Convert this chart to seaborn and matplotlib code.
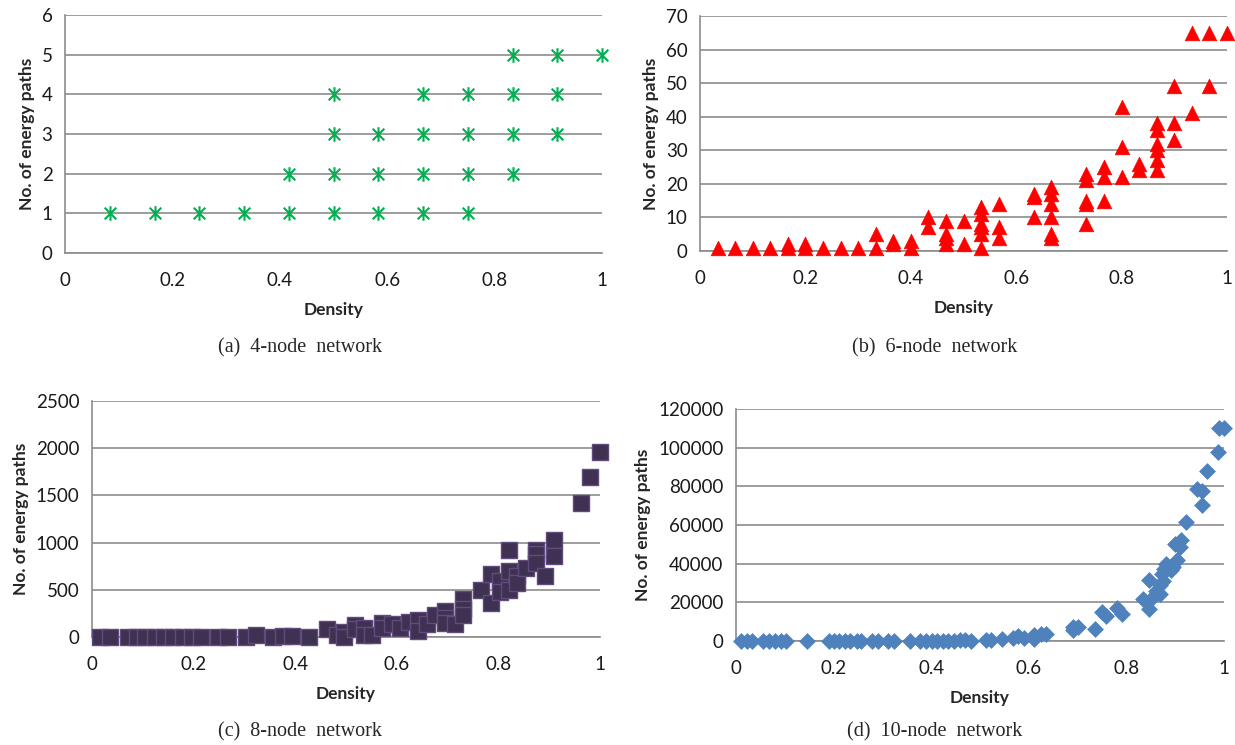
import numpy as np
import pandas as pd
import matplotlib
matplotlib.use("Agg")
import matplotlib.pyplot as plt
from matplotlib.path import Path
import seaborn as sns

# ---------------- data ----------------
# (a) 4-node network
a_density = [1/12, 2/12, 3/12, 4/12, 5/12, 6/12, 7/12, 8/12, 9/12,
             5/12, 6/12, 7/12, 8/12, 9/12, 10/12,
             6/12, 7/12, 8/12, 9/12, 10/12, 11/12,
             6/12, 8/12, 9/12, 10/12, 11/12,
             10/12, 11/12, 12/12]
a_paths = [1, 1, 1, 1, 1, 1, 1, 1, 1,
           2, 2, 2, 2, 2, 2,
           3, 3, 3, 3, 3, 3,
           4, 4, 4, 4, 4,
           5, 5, 5]

# (b) 6-node network
b_density = [1/30, 2/30, 3/30, 4/30, 5/30, 5/30, 6/30, 6/30, 7/30, 8/30, 9/30,
             10/30, 10/30, 11/30, 11/30, 12/30, 12/30, 13/30, 13/30,
             14/30, 14/30, 14/30, 14/30, 15/30, 15/30,
             16/30, 16/30, 16/30, 16/30, 16/30, 16/30, 17/30, 17/30, 17/30,
             19/30, 19/30, 19/30, 20/30, 20/30, 20/30, 20/30, 20/30, 20/30,
             22/30, 22/30, 22/30, 22/30, 22/30, 23/30, 23/30, 23/30,
             24/30, 24/30, 24/30, 25/30, 25/30,
             26/30, 26/30, 26/30, 26/30, 26/30, 26/30,
             27/30, 27/30, 27/30, 28/30, 28/30, 29/30, 29/30, 30/30]
b_paths = [1, 1, 1, 1, 1, 2, 1, 2, 1, 1, 1,
           1, 5, 2, 3, 1, 3, 7, 10,
           2, 4, 5, 9, 2, 9,
           1, 5, 7, 8, 11, 13, 4, 7, 14,
           10, 16, 17, 4, 5, 10, 14, 17, 19,
           8, 14, 15, 21, 23, 15, 22, 25,
           22, 31, 43, 24, 26,
           24, 27, 30, 32, 36, 38,
           33, 38, 49, 41, 65, 49, 65, 65]

# (c) 8-node network
c_density = [0.016, 0.035, 0.070, 0.089, 0.105, 0.124, 0.141, 0.159, 0.179, 0.196, 0.215,
             0.249, 0.268, 0.303, 0.322, 0.357, 0.375, 0.394, 0.427,
             0.462, 0.482, 0.497, 0.497, 0.517, 0.517, 0.536, 0.536, 0.552,
             0.571, 0.571, 0.591, 0.606, 0.624, 0.641, 0.641, 0.660, 0.676,
             0.695, 0.695, 0.695, 0.715, 0.730, 0.730, 0.730,
             0.766, 0.785, 0.785, 0.803, 0.803, 0.820, 0.820, 0.820,
             0.837, 0.837, 0.855, 0.874, 0.874, 0.874, 0.892, 0.909, 0.909,
             0.962, 0.981, 1.000]
c_paths = [0, 0, 0, 0, 0, 0, 0, 0, 0, 0, 0,
           0, 0, 0, 20, 0, 10, 10, 0,
           90, 20, 50, 0, 130, 80, 100, 20, 20,
           150, 100, 140, 100, 160, 180, 60, 140, 230,
           280, 200, 150, 140, 400, 300, 230,
           500, 665, 360, 590, 480, 920, 700, 500,
           650, 570, 730, 920, 880, 780, 650, 1025, 855,
           1415, 1695, 1960]

# (d) 10-node network
d_density = [0.010, 0.022, 0.033, 0.056, 0.068, 0.080, 0.092, 0.103, 0.146,
             0.190, 0.200, 0.212, 0.223, 0.234, 0.247, 0.257, 0.279, 0.290,
             0.311, 0.323, 0.356, 0.378, 0.389, 0.401, 0.412, 0.424, 0.435,
             0.447, 0.458, 0.469, 0.481, 0.513, 0.523, 0.545, 0.567, 0.578,
             0.590, 0.611, 0.611, 0.624, 0.635, 0.690, 0.690, 0.700, 0.735,
             0.749, 0.759, 0.780, 0.792, 0.833, 0.847, 0.847, 0.854, 0.861,
             0.868, 0.868, 0.875, 0.872, 0.878, 0.882, 0.892, 0.896, 0.903,
             0.900, 0.912, 0.910, 0.922, 0.945, 0.955, 0.955, 0.965, 0.988,
             0.990, 1.000]
d_paths = [0, 0, 0, 0, 0, 0, 0, 0, 0,
           0, 0, 0, 0, 0, 0, 0, 0, 0,
           0, 0, 0, 0, 0, 0, 0, 0, 0,
           0, 300, 400, 0, 500, 300, 1000, 1500, 2500,
           1800, 1000, 3000, 3500, 3500, 5500, 7500, 7500, 6000,
           15000, 13000, 17000, 14000, 21500, 31500, 16500, 23000, 26000,
           24500, 29000, 31000, 34500, 37500, 40000, 36500, 38500, 42000,
           50000, 52000, 48500, 61500, 78500, 77500, 70500, 88000, 98000,
           110000, 110000]

x_ticks = [0, 0.2, 0.4, 0.6, 0.8, 1]
x_labels = ["0", "0.2", "0.4", "0.6", "0.8", "1"]
a_yticks = [0, 1, 2, 3, 4, 5, 6]
b_yticks = [0, 10, 20, 30, 40, 50, 60, 70]
c_yticks = [0, 500, 1000, 1500, 2000, 2500]
d_yticks = [0, 20000, 40000, 60000, 80000, 100000, 120000]
captions = ["(a)  4-node  network", "(b)  6-node  network",
            "(c)  8-node  network", "(d)  10-node  network"]

# ---------------- style ----------------
sns.set_theme(style="white")
plt.rcParams["font.family"] = ["Lato", "DejaVu Sans"]

W, H = 1235, 745
fig = plt.figure(figsize=(W / 100, H / 100), dpi=100)


def add_axes(x0, x1, y_bottom, y_top):
    return fig.add_axes([x0 / W, 1 - y_bottom / H, (x1 - x0) / W, (y_bottom - y_top) / H])


GRID = "#8c8c8c"


def style(ax, yticks):
    ax.set_xlim(0, 1)
    ax.set_ylim(yticks[0], yticks[-1])
    ax.set_xticks(x_ticks)
    ax.set_xticklabels(x_labels)
    ax.set_yticks(yticks)
    ax.set_yticklabels([str(v) for v in yticks])
    ax.grid(axis="y", color=GRID, linewidth=1.2)
    ax.grid(axis="x", visible=False)
    ax.set_axisbelow(True)
    for s in ["top", "right"]:
        ax.spines[s].set_visible(False)
    for s in ["left", "bottom"]:
        ax.spines[s].set_color(GRID)
        ax.spines[s].set_linewidth(1.2)
    ax.tick_params(axis="both", which="major", direction="out", length=5, width=1.2,
                   color=GRID, labelsize=13.5, labelcolor="#1a1a1a", pad=4)
    ax.tick_params(axis="x", pad=9)
    ax.set_xlabel("Density", fontsize=12.5, fontweight="bold", labelpad=9)
    ax.set_ylabel("No. of energy paths", fontsize=12.5, fontweight="bold", labelpad=5)


# Excel-like star marker: an X with a vertical stroke
star = Path([(-1, -1), (1, 1), (-1, 1), (1, -1), (0, -1.25), (0, 1.25)],
            [Path.MOVETO, Path.LINETO, Path.MOVETO, Path.LINETO, Path.MOVETO, Path.LINETO])

# (a)
ax_a = add_axes(65, 602, 253, 15)
sns.scatterplot(x=a_density, y=a_paths, ax=ax_a, marker=star, s=110,
                color="#00b050", edgecolor="#00b050", linewidth=1.5, clip_on=False, zorder=3)
style(ax_a, a_yticks)

# (b)
ax_b = add_axes(700, 1227, 251, 16)
sns.scatterplot(x=b_density, y=b_paths, ax=ax_b, marker="^", s=110,
                color="#ff0000", edgecolor="#ff0000", linewidth=0.5, clip_on=False, zorder=3)
style(ax_b, b_yticks)

# (c)
ax_c = add_axes(92, 600, 637, 401)
sns.scatterplot(x=c_density, y=c_paths, ax=ax_c, marker="s", s=125,
                color="#3f3151", edgecolor="#5f4b7e", linewidth=1.0, clip_on=False, zorder=3)
style(ax_c, c_yticks)

# (d)
ax_d = add_axes(736, 1224, 641, 409)
sns.scatterplot(x=d_density, y=d_paths, ax=ax_d, marker="D", s=65,
                color="#4f81bd", edgecolor="#4f81bd", linewidth=0.5, clip_on=False, zorder=3)
style(ax_d, d_yticks)

# captions
cap_font = ["Liberation Serif", "DejaVu Serif"]
for text, cx, cy in [(captions[0], 300, 348), (captions[1], 935, 348),
                     (captions[2], 300, 732), (captions[3], 935, 732)]:
    fig.text(cx / W, 1 - cy / H, text, ha="center", va="center", fontsize=14.5, family=cap_font)

fig.savefig("out.png", dpi=100)
